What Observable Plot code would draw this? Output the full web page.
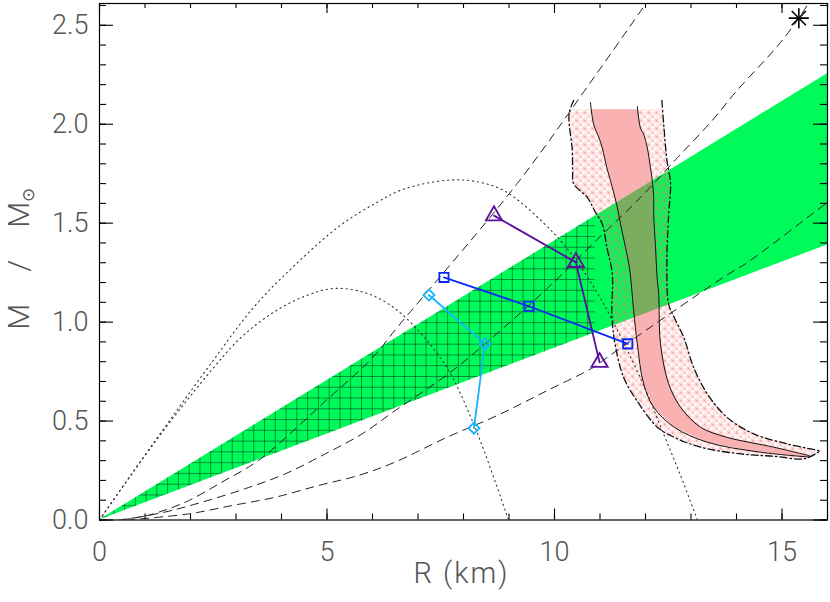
<!DOCTYPE html>
<html><head><meta charset="utf-8">
<script src="https://cdn.jsdelivr.net/npm/d3@7"></script>
<script src="https://cdn.jsdelivr.net/npm/@observablehq/plot@0.6"></script>
<style>html,body{margin:0;padding:0;background:#fff;overflow:hidden}
#wrap{position:relative;width:830px;height:602px}
#wrap svg{position:absolute;left:0;top:0}</style>
</head><body><div id="wrap"></div>
<script>
// ---- axes ----
const xMajorTicks = [0, 5, 10, 15];
const xTickLabels = ["0", "5", "10", "15"];
const xMinorTicks = [0,1,2,3,4,5,6,7,8,9,10,11,12,13,14,15,16];
const yMajorTicks = [0, 0.5, 1.0, 1.5, 2.0, 2.5];
const yTickLabels = ["0.0", "0.5", "1.0", "1.5", "2.0", "2.5"];
const yMinorTicks = [0,0.1,0.2,0.3,0.4,0.5,0.6,0.7,0.8,0.9,1.0,1.1,1.2,1.3,1.4,1.5,1.6,1.7,1.8,1.9,2.0,2.1,2.2,2.3,2.4,2.5,2.6];
const xTitle = "R (km)";
const yTitleParts = ["M", "/", "M", "⊙"];

// ---- green wedge and its gridded part ----
const greenR = [0, 16];
const greenLow = [0, 1.39];
const greenHigh = [0, 2.255];
const gridR = [0, 10.9];
const gridLow = [0, 0.945];
const gridHigh = [0, 1.537];

// ---- dashed curves ----
const dash1R = [0.4, 1.0, 1.5, 1.96, 2.68, 3.49, 4.30, 4.96, 5.98, 6.55, 9.18, 10.94, 12.01];
const dash1M = [0.0, 0.02, 0.055, 0.098, 0.19, 0.30, 0.46, 0.60, 0.815, 0.975, 1.70, 2.26, 2.61];
const dash2R = [0.5, 1.44, 2.25, 3.2, 4.08, 4.96, 5.77, 6.5, 7.71, 8.81, 9.84, 10.86, 11.89, 12.70, 13.47, 14.01, 14.92, 15.37, 15.58];
const dash2M = [0.0, 0.04, 0.09, 0.158, 0.233, 0.334, 0.435, 0.553, 0.746, 0.957, 1.17, 1.40, 1.63, 1.83, 2.02, 2.17, 2.40, 2.536, 2.61];
const dash3R = [0.6, 1.96, 2.91, 3.86, 4.81, 5.69, 6.45, 7.64, 8.74, 9.84, 10.86, 11.16, 13.71, 14.23, 15.74, 16.0];
const dash3M = [0.0, 0.031, 0.073, 0.115, 0.174, 0.225, 0.288, 0.418, 0.528, 0.654, 0.772, 0.822, 1.226, 1.30, 1.56, 1.605];

// ---- dotted curves ----
const dot1R = [0, 0.7, 1.5, 2.4, 3.39, 4.35, 5.3, 6.1, 6.69, 7.71, 8.37, 8.96, 9.98, 10.48, 11.01, 11.49, 11.96, 12.37, 12.77, 13.14];
const dot1M = [0, 0.23, 0.49, 0.775, 1.075, 1.30, 1.49, 1.605, 1.672, 1.718, 1.706, 1.655, 1.45, 1.31, 1.12, 0.91, 0.68, 0.45, 0.225, 0];
const dot2R = [0, 0.7, 1.5, 2.4, 3.1, 3.83, 4.56, 5.15, 5.74, 6.18, 6.62, 7.13, 7.64, 7.93, 8.37, 8.99];
const dot2M = [0, 0.23, 0.48, 0.74, 0.92, 1.05, 1.135, 1.17, 1.155, 1.115, 1.045, 0.925, 0.77, 0.64, 0.40, 0];

// ---- red hatched region boundaries ----
const outerLeftR = [10.42, 10.32, 10.39, 10.40, 10.42, 10.72, 10.90, 11.05, 11.15, 11.27, 11.26, 11.33, 11.52, 11.82, 12.26, 12.63, 13.21, 14.09, 14.82, 15.5, 15.81];
const outerLeftM = [2.12, 2.05, 1.87, 1.765, 1.70, 1.63, 1.555, 1.496, 1.378, 1.243, 1.04, 0.89, 0.72, 0.60, 0.469, 0.418, 0.368, 0.334, 0.322, 0.31, 0.345];
const innerLeftR = [10.79, 10.86, 10.98, 11.05, 11.15, 11.23, 11.38, 11.45, 11.56, 11.65, 11.74, 11.82, 11.96, 12.18, 12.63, 13.36, 14.45, 15.6];
const innerLeftM = [2.11, 2.0, 1.93, 1.88, 1.78, 1.715, 1.58, 1.496, 1.378, 1.27, 1.058, 0.89, 0.688, 0.57, 0.469, 0.393, 0.345, 0.318];
const innerRightR = [11.82, 11.89, 11.96, 12.04, 12.11, 12.15, 12.18, 12.18, 12.22, 12.26, 12.29, 12.33, 12.51, 12.77, 13.21, 13.79, 14.82, 15.6];
const innerRightM = [2.09, 1.98, 1.95, 1.88, 1.78, 1.715, 1.63, 1.546, 1.378, 1.21, 1.142, 0.89, 0.688, 0.57, 0.469, 0.418, 0.368, 0.325];
const outerRightR = [12.36, 12.40, 12.47, 12.55, 12.51, 12.47, 12.51, 12.63, 12.84, 13.06, 13.36, 13.79, 14.38, 15.11, 15.81];
const outerRightM = [2.12, 2.0, 1.82, 1.70, 1.546, 1.31, 1.09, 1.024, 0.923, 0.77, 0.637, 0.519, 0.435, 0.385, 0.351];
const hatchTop = 2.075;
const hatchTopR = [10.355, 10.81, 11.83, 12.375]; // outerLeft, innerLeft, innerRight, outerRight at the hatch top

// ---- measured series ----
const purpleR = [8.67, 10.47, 10.99];
const purpleM = [1.538, 1.302, 0.797];
const blueR = [7.57, 9.44, 11.61];
const blueM = [1.226, 1.08, 0.89];
const cyanR = [7.24, 8.47, 8.23];
const cyanM = [1.137, 0.89, 0.464];
const starR = [15.37];
const starM = [2.536];

// ---- build tables ----
const pts = (xs, ys) => xs.map((x, i) => ({x, y: ys[i]}));
const band = (xs, lo, hi) => xs.map((x, i) => ({x, y1: lo[i], y2: hi[i]}));
const below = (a) => a.filter(p => p.y < hatchTop);
const oL = pts(outerLeftR, outerLeftM), iL = pts(innerLeftR, innerLeftM);
const iR = pts(innerRightR, innerRightM), oR = pts(outerRightR, outerRightM);
const leftBand = [{x: hatchTopR[0], y: hatchTop}, ...below(oL), ...below(iL).reverse(), {x: hatchTopR[1], y: hatchTop}];
const innerBand = [{x: hatchTopR[1], y: hatchTop}, ...below(iL), ...below(iR).reverse(), {x: hatchTopR[2], y: hatchTop}];
const rightBand = [{x: hatchTopR[2], y: hatchTop}, ...below(iR), ...below(oR).reverse(), {x: hatchTopR[3], y: hatchTop}];

const X_DOMAIN = [0, 16], Y_DOMAIN = [0, 2.61];
const W = 830, H = 602, ML = 99, MR = 3, MT = 3, MB = 82.5;
const FW = W - ML - MR, FH = H - MT - MB;   // frame size in px
const FONT = "Roboto, 'DejaVu Sans', sans-serif";
const TXT = "#555";
const TICK = "#000";
const purple = "#5a0fa0", blue = "#0a28f5", cyan = "#14b4ff";
const layout = {width: W, height: H, marginLeft: ML, marginRight: MR, marginTop: MT, marginBottom: MB};

const chart = Plot.plot({
  ...layout,
  style: {fontFamily: FONT, background: "#fff"},
  x: {domain: X_DOMAIN, axis: null},
  y: {domain: Y_DOMAIN, axis: null},
  marks: [
    Plot.areaY(band(greenR, greenLow, greenHigh), {x: "x", y1: "y1", y2: "y2", fill: "#00fa5a"}),
    Plot.areaY(band(gridR, gridLow, gridHigh), {x: "x", y1: "y1", y2: "y2", fill: "url(#gridHatch)"}),
    Plot.line(leftBand, {x: "x", y: "y", fill: "url(#coarseHatch)", stroke: "none"}),
    Plot.line(rightBand, {x: "x", y: "y", fill: "url(#coarseHatch)", stroke: "none"}),
    Plot.line(innerBand, {x: "x", y: "y", fill: "url(#denseHatch)", stroke: "none"}),
    Plot.line(oL, {x: "x", y: "y", stroke: "#111", strokeWidth: 1.3, strokeDasharray: "7,3,1.5,3", curve: "catmull-rom"}),
    Plot.line(oR, {x: "x", y: "y", stroke: "#111", strokeWidth: 1.3, strokeDasharray: "7,3,1.5,3", curve: "catmull-rom"}),
    Plot.line(iL, {x: "x", y: "y", stroke: "#111", strokeWidth: 1, curve: "catmull-rom"}),
    Plot.line(iR, {x: "x", y: "y", stroke: "#111", strokeWidth: 1, curve: "catmull-rom"}),
    Plot.line(pts(dot1R, dot1M), {x: "x", y: "y", stroke: "#333", strokeWidth: 1.1, strokeDasharray: "1.2,3.8", curve: "catmull-rom", clip: true}),
    Plot.line(pts(dot2R, dot2M), {x: "x", y: "y", stroke: "#333", strokeWidth: 1.1, strokeDasharray: "1.2,3.8", curve: "catmull-rom", clip: true}),
    Plot.line(pts(dash1R, dash1M), {x: "x", y: "y", stroke: "#222", strokeWidth: 1, strokeDasharray: "8,6", curve: "catmull-rom", clip: true}),
    Plot.line(pts(dash2R, dash2M), {x: "x", y: "y", stroke: "#222", strokeWidth: 1, strokeDasharray: "8,6", curve: "catmull-rom", clip: true}),
    Plot.line(pts(dash3R, dash3M), {x: "x", y: "y", stroke: "#222", strokeWidth: 1, strokeDasharray: "8,6", curve: "catmull-rom", clip: true}),
    Plot.line(pts(purpleR, purpleM), {x: "x", y: "y", stroke: purple, strokeWidth: 1.8}),
    Plot.dot(pts(purpleR, purpleM), {x: "x", y: "y", symbol: "triangle", r: 6, stroke: purple, strokeWidth: 1.8, fill: "none"}),
    Plot.line(pts(blueR, blueM), {x: "x", y: "y", stroke: blue, strokeWidth: 1.8}),
    Plot.dot(pts(blueR, blueM), {x: "x", y: "y", symbol: "square", r: 5.2, stroke: blue, strokeWidth: 1.8, fill: "none"}),
    Plot.line(pts(cyanR, cyanM), {x: "x", y: "y", stroke: cyan, strokeWidth: 1.8}),
    Plot.dot(pts(cyanR, cyanM), {x: "x", y: "y", symbol: "diamond2", r: 5, stroke: cyan, strokeWidth: 1.8, fill: "none"}),
    Plot.dot(pts(starR, starM), {x: "x", y: "y", symbol: "plus", r: 6.5, stroke: "black", strokeWidth: 1.6}),
    Plot.dot(pts(starR, starM), {x: "x", y: "y", symbol: "times", r: 6.5, stroke: "black", strokeWidth: 1.6}),
    // tick labels
    Plot.axisX({anchor: "bottom", ticks: xMajorTicks, tickSize: 0, tickPadding: 22, label: null,
      tickFormat: d => xTickLabels[xMajorTicks.indexOf(d)], fontSize: 27, fill: TXT, fontWeight: 300}),
    Plot.axisY({anchor: "left", ticks: yMajorTicks, tickSize: 0, tickPadding: 11, label: null,
      tickFormat: d => yTickLabels[yMajorTicks.indexOf(d)], fontSize: 27, fill: TXT, fontWeight: 300}),
    // axis titles
    Plot.text([xTitle], {text: d => d, frameAnchor: "bottom", dy: 63, dx: -2, fontSize: 29, fill: TXT, fontWeight: 300}),
    Plot.text([yTitleParts.join(" ")], {text: d => d, frameAnchor: "left", textAnchor: "middle", rotate: -90, dx: -80, dy: -3, fontSize: 30, fill: TXT, fontWeight: 300})
  ]
});

// frame and inward ticks: a second plot with the same scales, laid over the first
const frameLayer = Plot.plot({
  ...layout,
  style: {background: "transparent"},
  x: {domain: X_DOMAIN, axis: null},
  y: {domain: Y_DOMAIN, axis: null},
  marks: [
    Plot.frame({stroke: "black", strokeWidth: 1.2}),
    Plot.tickX(xMinorTicks, {x: d => d, insetTop: FH - 6, stroke: TICK, strokeWidth: 1.1}),
    Plot.tickX(xMajorTicks, {x: d => d, insetTop: FH - 11, stroke: TICK, strokeWidth: 1.1}),
    Plot.tickX(xMinorTicks, {x: d => d, insetBottom: FH - 5, stroke: TICK, strokeWidth: 1.1}),
    Plot.tickX(xMajorTicks, {x: d => d, insetBottom: FH - 10, stroke: TICK, strokeWidth: 1.1}),
    Plot.tickY(yMinorTicks, {y: d => d, insetRight: FW - 7, stroke: TICK, strokeWidth: 1.1}),
    Plot.tickY(yMajorTicks, {y: d => d, insetRight: FW - 14, stroke: TICK, strokeWidth: 1.1}),
    Plot.tickY(yMinorTicks, {y: d => d, insetLeft: FW - 7, stroke: TICK, strokeWidth: 1.1}),
    Plot.tickY(yMajorTicks, {y: d => d, insetLeft: FW - 14, stroke: TICK, strokeWidth: 1.1})
  ]
});

const defs = document.createElementNS("http://www.w3.org/2000/svg", "defs");
defs.innerHTML = `
<pattern id="gridHatch" patternUnits="userSpaceOnUse" x="102.5" y="516" width="10.77" height="10.77">
  <path d="M0,0.5H10.77M0.5,0V10.77" stroke="#063818" stroke-width="0.9" stroke-opacity="0.6" fill="none"/>
</pattern>
<pattern id="coarseHatch" patternUnits="userSpaceOnUse" x="0" y="0" width="8" height="8">
  <path d="M0,0H8M0,0V8M0,0L8,8M8,0L0,8" stroke="#ff6464" stroke-width="0.5" fill="none"/>
</pattern>
<pattern id="denseHatch" patternUnits="userSpaceOnUse" x="0" y="0" width="2" height="2">
  <rect x="0" y="0" width="1" height="1" fill="#ff6b6b"/>
  <rect x="1" y="1" width="1" height="1" fill="#e85a5a"/>
</pattern>`;
chart.appendChild(defs);

// axis title spacing and the subscript solar symbol
const ns = "http://www.w3.org/2000/svg";
const yJoined = yTitleParts.join(" ");
chart.querySelectorAll("text").forEach(t => {
  if (t.textContent === xTitle) {
    t.style.letterSpacing = "2px";
  }
  if (t.textContent === yJoined) {
    t.textContent = "";
    const gaps = [0, 32, 32, 0];
    yTitleParts.forEach((s, i) => {
      const sp = document.createElementNS(ns, "tspan");
      sp.textContent = s;
      if (gaps[i]) sp.setAttribute("dx", gaps[i]);
      if (i === 3) { sp.setAttribute("font-size", "17"); sp.setAttribute("dy", "5"); }
      t.appendChild(sp);
    });
  }
});
frameLayer.style.pointerEvents = "none";
const wrap = document.getElementById("wrap");
wrap.appendChild(chart);
wrap.appendChild(frameLayer);
</script>
</body></html>
